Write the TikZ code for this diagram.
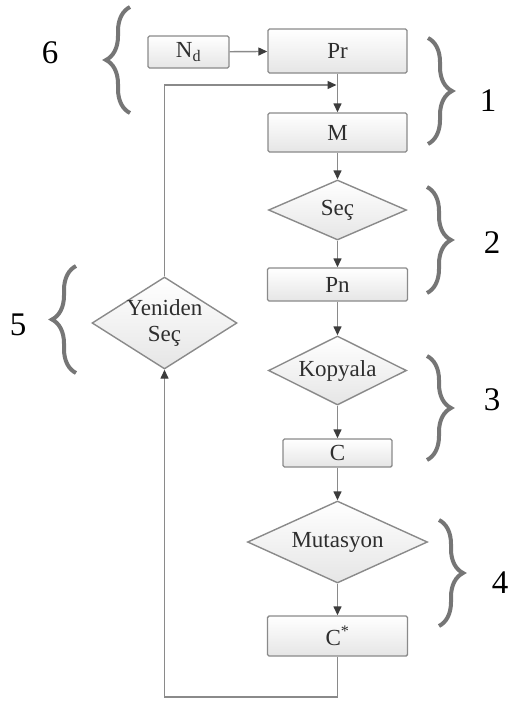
\documentclass[tikz,border=0pt]{standalone}
\usepackage{fontspec}
\setmainfont{Liberation Serif}
\usetikzlibrary{shapes.geometric,arrows.meta,decorations.pathreplacing}
\definecolor{lnc}{HTML}{8A8A8A}
\definecolor{tipc}{HTML}{3C3C3C}
\definecolor{brc}{HTML}{767676}
\definecolor{txc}{HTML}{2E2E2E}
\tikzset{
  boxst/.style={draw=lnc, line width=1.4pt, rounded corners=1.5pt, top color=white, bottom color=black!10,
    inner sep=0pt, font=\fontsize{23}{27}\selectfont, text=txc},
  diast/.style={diamond, draw=lnc, line width=1.4pt, top color=white, bottom color=black!10,
    inner sep=0pt},
  dlab/.style={font=\fontsize{23}{26}\selectfont, text=txc, align=center},
  conn/.style={draw=lnc, line width=1.4pt, -{Triangle[length=9pt,width=8pt,color=tipc]}},
  bracest/.style={draw=brc, line width=4pt, decorate, decoration={brace, amplitude=24pt, aspect=0.5}},
  numst/.style={font=\fontsize{33}{38}\selectfont, text=black}
}
\begin{document}
\begin{tikzpicture}[x=1pt,y=-1pt]
\useasboundingbox (0,0) rectangle (510,702);
% nodes
\node[boxst, minimum width=81, minimum height=32] (nd) at (188.5,52) {N\textsubscript{d}};
\node[boxst, minimum width=139, minimum height=44] (pr) at (337.5,51) {Pr};
\node[boxst, minimum width=139, minimum height=39] (m) at (337.5,132.5) {M};
\node[diast, minimum width=138, minimum height=60, label={[dlab]center:Seç}] (sec) at (337.5,210) {};
\node[boxst, minimum width=140, minimum height=33] (pn) at (337.5,284.5) {Pn};
\node[diast, minimum width=138, minimum height=69, label={[dlab]center:Kopyala}] (kop) at (337.5,370.5) {};
\node[boxst, minimum width=109, minimum height=28] (c) at (337.5,453) {C};
\node[diast, minimum width=180, minimum height=82, label={[dlab]center:Mutasyon}] (mut) at (337.5,542) {};
\node[boxst, minimum width=140, minimum height=40] (cs) at (337.5,636) {C\textsuperscript{*}};
\node[diast, minimum width=145, minimum height=92, label={[dlab]center:Yeniden\\Seç}] (yen) at (164.5,323) {};
% helper coordinates
\coordinate (j) at (337.5,85);
\coordinate (lb) at (337.5,697);
\coordinate (ll) at (164.5,697);
% connectors
\draw[conn] (nd) -- (pr);
\draw[conn] (pr) -- (m);
\draw[conn] (m) -- (sec);
\draw[conn] (sec) -- (pn);
\draw[conn] (pn) -- (kop);
\draw[conn] (kop) -- (c);
\draw[conn] (c) -- (mut);
\draw[conn] (mut) -- (cs);
\draw[conn] (cs.south) -- (lb) -- (ll) -- (yen.south);
\draw[conn, shorten >=1pt] (yen.north) |- (j);
% braces
\coordinate (b6a) at (130,113); \coordinate (b6b) at (130,7);
\coordinate (b1a) at (428,38); \coordinate (b1b) at (428,144);
\coordinate (b2a) at (427,187); \coordinate (b2b) at (427,293);
\coordinate (b3a) at (427,356); \coordinate (b3b) at (427,460);
\coordinate (b4a) at (439,520); \coordinate (b4b) at (439,626);
\coordinate (b5a) at (76,373); \coordinate (b5b) at (76,266);
\draw[bracest] (b6a) -- (b6b);
\draw[bracest] (b1a) -- (b1b);
\draw[bracest] (b2a) -- (b2b);
\draw[bracest] (b3a) -- (b3b);
\draw[bracest] (b4a) -- (b4b);
\draw[bracest] (b5a) -- (b5b);
% numbers
\node[numst] (n6) at (50,53) {6};
\node[numst] (n1) at (488,101) {1};
\node[numst] (n2) at (492,243) {2};
\node[numst] (n3) at (492,400) {3};
\node[numst] (n4) at (500,583) {4};
\node[numst] (n5) at (18,325) {5};
\end{tikzpicture}
\end{document}
